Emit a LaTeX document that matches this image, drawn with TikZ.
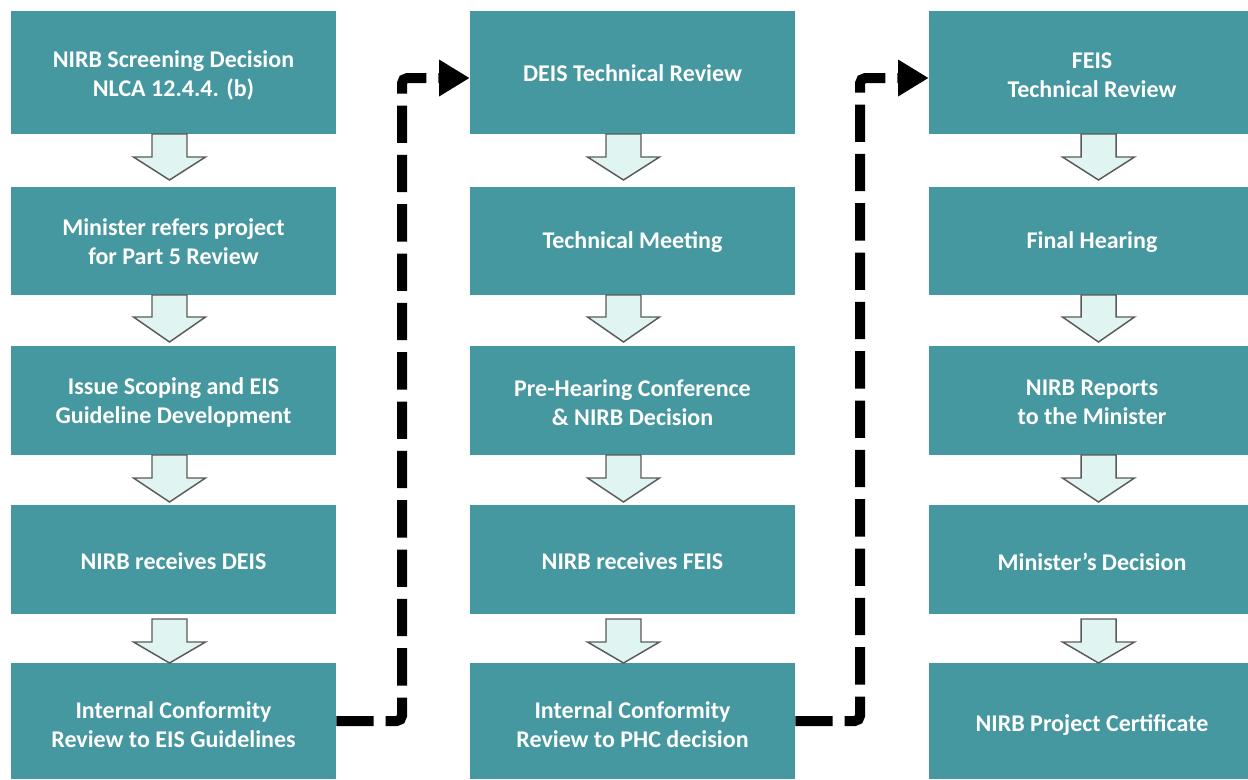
\documentclass[tikz,border=0pt]{standalone}
\usepackage{fontspec}
\setmainfont{Carlito}
\usetikzlibrary{arrows.meta}
\definecolor{teal1}{HTML}{4597A0}
\definecolor{blkfill}{HTML}{E0F4F2}
\definecolor{blkline}{HTML}{5A5A5A}
\tikzset{
  box/.style={fill=teal1, draw=none, inner sep=0pt},
  lbl/.style={inner sep=0pt, align=center, text=white,
    font=\fontsize{18}{21.8}\selectfont\bfseries},
  blkarrow/.style={fill=blkfill, draw=blkline, line width=1.1pt, line join=miter},
  conn/.style={line width=7.5pt, dash pattern=on 28pt off 9pt, rounded corners=4pt,
    -{Triangle[length=23pt,width=26pt]}}
}
% name, cx, cy, width(pt), height(pt), text shift down (pt), text
\newcommand\bx[7]{\node[box, minimum width=#4, minimum height=#5,
  label={[lbl, yshift=-#6]center:{#7}}] (#1) at (#2,#3) {};}
\newcommand\blockarrow[4]{\draw[blkarrow] (#1-17.5,#2) -- (#1+17.5,#2) -- (#1+17.5,#3) -- (#1+36,#3) -- (#1,#4) -- (#1-36,#3) -- (#1-17.5,#3) -- cycle;}
\begin{document}
\begin{tikzpicture}[x=0.75pt,y=-0.75pt]
\useasboundingbox (0,0) rectangle (1248,779);
% column 1
\bx{n11}{173.5}{72.5}{243.75pt}{92.25pt}{2.25pt}{NIRB Screening Decision\\NLCA 12.4.4. (b)}
\bx{n12}{173.5}{241}{243.75pt}{81pt}{0.4pt}{Minister refers project\\for Part 5 Review}
\bx{n13}{173.5}{400.5}{243.75pt}{81.75pt}{1.5pt}{Issue Scoping and EIS\\Guideline Development}
\bx{n14}{173.5}{559.5}{243.75pt}{81.75pt}{1.5pt}{NIRB receives DEIS}
\bx{n15}{173.5}{721}{243.75pt}{87pt}{3pt}{Internal Conformity\\Review to EIS Guidelines}
% column 2
\bx{n21}{632.5}{72.5}{243.75pt}{92.25pt}{0.75pt}{DEIS Technical Review}
\bx{n22}{632.5}{241}{243.75pt}{81pt}{0.75pt}{Technical Meeting}
\bx{n23}{632.5}{400.5}{243.75pt}{81.75pt}{1.5pt}{Pre-Hearing Conference\\\& NIRB Decision}
\bx{n24}{632.5}{559.5}{243.75pt}{81.75pt}{1.5pt}{NIRB receives FEIS}
\bx{n25}{632.5}{721}{243.75pt}{87pt}{3pt}{Internal Conformity\\Review to PHC decision}
% column 3
\bx{n31}{1092}{72.5}{244.5pt}{92.25pt}{2.25pt}{FEIS\\Technical Review}
\bx{n32}{1092}{241}{244.5pt}{81pt}{0.75pt}{Final Hearing}
\bx{n33}{1092}{400.5}{244.5pt}{81.75pt}{1.5pt}{NIRB Reports\\to the Minister}
\bx{n34}{1092}{559.5}{244.5pt}{81.75pt}{1.5pt}{Minister’s Decision}
\bx{n35}{1092}{721}{244.5pt}{87pt}{3pt}{NIRB Project Certificate}
% block arrows
\foreach \cx in {169.5,623.5,1098.5}{
  \blockarrow{\cx}{134}{157}{180}
  \blockarrow{\cx}{295}{317}{342}
  \blockarrow{\cx}{455}{478}{502}
  \blockarrow{\cx}{619}{642}{663}
}
% dashed connectors
\draw[conn] (n15.east) -- (402,721) -- (402,78) -- (n21.west |- 0,78);
\draw[conn] (n25.east) -- (860,721) -- (860,78) -- (n31.west |- 0,78);
\end{tikzpicture}
\end{document}
